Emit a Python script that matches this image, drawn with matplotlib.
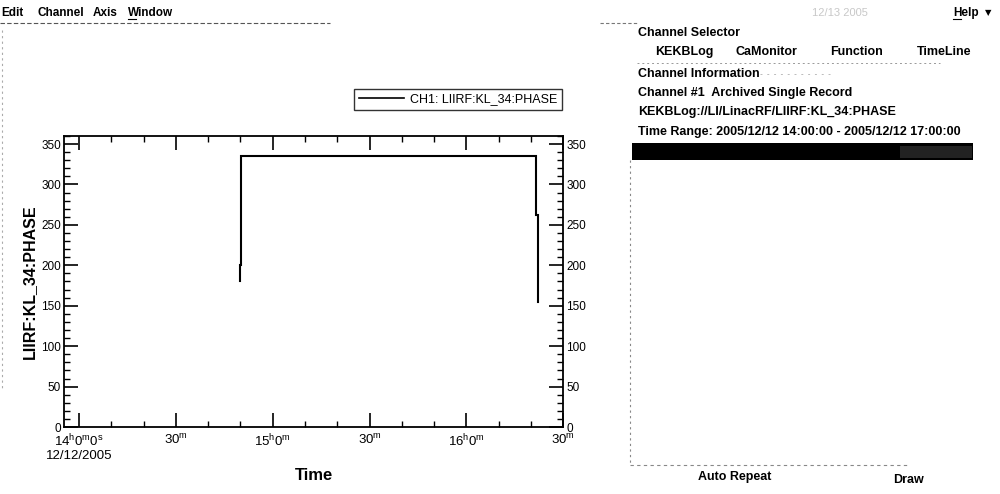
import matplotlib
matplotlib.use("Agg")
import matplotlib.pyplot as plt
import matplotlib.dates as mdates
from matplotlib.ticker import MultipleLocator, FixedLocator, FixedFormatter
from matplotlib.lines import Line2D
from matplotlib.patches import Rectangle
from datetime import datetime

plt.rcParams['font.family'] = ['Liberation Sans', 'DejaVu Sans']
plt.rcParams['mathtext.default'] = 'regular'

# ---------------- data ----------------
times = ["2005-12-12 14:49:50", "2005-12-12 14:49:50", "2005-12-12 14:50:10",
         "2005-12-12 14:50:10", "2005-12-12 16:21:40", "2005-12-12 16:21:40",
         "2005-12-12 16:22:05", "2005-12-12 16:22:05"]
values = [181, 200, 200, 335, 335, 262, 262, 155]
series_label = "CH1: LIIRF:KL_34:PHASE"

x_tick_times = ["2005-12-12 14:00:00", "2005-12-12 14:30:00", "2005-12-12 15:00:00",
                "2005-12-12 15:30:00", "2005-12-12 16:00:00", "2005-12-12 16:30:00"]
x_tick_labels = [r"14$^h$0$^m$0$^s$" + "\n12/12/2005", r"30$^m$", r"15$^h$0$^m$",
                 r"30$^m$", r"16$^h$0$^m$", r"30$^m$"]
y_ticks = [0, 50, 100, 150, 200, 250, 300, 350]
x_range = ["2005-12-12 13:55:21", "2005-12-12 16:30:00"]
y_range = [0, 360]

menu_items = ["Edit", "Channel", "Axis", "Window"]
selector_buttons = ["KEKBLog", "CaMonitor", "Function", "TimeLine"]
info_lines = ["Channel #1  Archived Single Record",
              "KEKBLog://LI/LinacRF/LIIRF:KL_34:PHASE",
              "Time Range: 2005/12/12 14:00:00 - 2005/12/12 17:00:00"]

fmt = "%Y-%m-%d %H:%M:%S"
t = [datetime.strptime(s, fmt) for s in times]
tt = [mdates.date2num(datetime.strptime(s, fmt)) for s in x_tick_times]
xr = [datetime.strptime(s, fmt) for s in x_range]

W, H = 1000, 494
fig = plt.figure(figsize=(W / 100, H / 100), dpi=100)
fig.patch.set_facecolor("white")

def fx(px):
    return px / W

def fy(py):
    return 1 - py / H

ax = fig.add_axes([fx(64), fy(427), fx(563.3) - fx(64), fy(136) - fy(427)])
ax.plot(t, values, color="black", lw=1.5, label=series_label, solid_joinstyle="miter")
ax.set_xlim(xr)
ax.set_ylim(y_range)

ax.xaxis.set_major_locator(FixedLocator(tt))
ax.xaxis.set_major_formatter(FixedFormatter(x_tick_labels))
ax.xaxis.set_minor_locator(mdates.MinuteLocator(byminute=range(0, 60, 10)))
ax.yaxis.set_major_locator(FixedLocator(y_ticks))
ax.yaxis.set_minor_locator(MultipleLocator(10))

for s in ax.spines.values():
    s.set_linewidth(1.3)
ax.tick_params(which="both", direction="in", top=True, right=True,
               labelright=True, labelsize=8.5, width=1.2, pad=2)
ax.tick_params(which="major", length=10)
ax.tick_params(which="minor", length=4, width=1.0)
ax.tick_params(axis="x", which="major", pad=4, labelsize=9.5)
for lab in ax.get_xticklabels():
    lab.set_linespacing(1.05)

ax.set_ylabel("LIIRF:KL_34:PHASE", fontsize=11.5, fontweight="bold", labelpad=3)
ax.set_xlabel("Time", fontsize=12, fontweight="bold", labelpad=4)
ax.xaxis.set_label_coords(0.5, (427 - 468) / 291)

leg = ax.legend(loc="upper right", bbox_to_anchor=((561.7 - 64) / 499.3, (427 - 89) / 291),
                frameon=True, fancybox=False, fontsize=9, handlelength=3.6,
                borderpad=0.35, handletextpad=0.5, borderaxespad=0)
leg.get_frame().set_edgecolor("black")
leg.get_frame().set_linewidth(1.0)
for ln in leg.get_lines():
    ln.set_linewidth(1.2)

# ---------------- surrounding GUI ----------------
menu_x = [1, 38, 93, 128]
for name, x in zip(menu_items, menu_x):
    fig.text(fx(x), fy(13), name, fontsize=8.5, fontweight="bold", va="center", ha="left")
fig.add_artist(Line2D([fx(128), fx(136)], [fy(19), fy(19)], color="black", lw=0.8))
fig.add_artist(Line2D([fx(0), fx(330)], [fy(23), fy(23)], color="#555555", lw=0.8,
                      ls=(0, (4, 2))))
fig.add_artist(Line2D([fx(2), fx(2)], [fy(30), fy(390)], color="#aaaaaa", lw=0.8,
                      ls=(0, (2, 3))))

fig.text(fx(812), fy(13), "12/13 2005", fontsize=8, color="#c8c8c8", va="center", ha="left")
fig.text(fx(953), fy(13), "Help", fontsize=8.5, fontweight="bold", va="center", ha="left")
fig.add_artist(Line2D([fx(953), fx(961)], [fy(19), fy(19)], color="black", lw=0.8))
fig.text(fx(988), fy(13), "\u25bc", fontsize=6, va="center", ha="center",
         family=["DejaVu Sans"])
fig.add_artist(Line2D([fx(600), fx(637)], [fy(23), fy(23)], color="#777777", lw=0.8,
                      ls=(0, (3, 2))))

pf = 9.0
fig.text(fx(638), fy(32.5), "Channel Selector", fontsize=pf, fontweight="bold",
         va="center", ha="left")
btn_x = [655, 735, 830, 917]
for name, x in zip(selector_buttons, btn_x):
    fig.text(fx(x), fy(52), name, fontsize=pf, fontweight="bold", va="center", ha="left")
fig.add_artist(Line2D([fx(637), fx(940)], [fy(63), fy(63)], color="#999999", lw=0.7,
                      ls=(0, (2, 3))))
fig.text(fx(638), fy(73.5), "Channel Information", fontsize=pf, fontweight="bold",
         va="center", ha="left")
fig.add_artist(Line2D([fx(760), fx(830)], [fy(74), fy(74)], color="#bbbbbb", lw=0.7,
                      ls=(0, (2, 5))))
for i, line in enumerate(info_lines):
    fig.text(fx(638), fy(93 + 19.3 * i), line, fontsize=pf, fontweight="bold",
             va="center", ha="left")

fig.add_artist(Rectangle((fx(632), fy(160)), fx(973) - fx(632), fy(143) - fy(160),
                         facecolor="black", edgecolor="none"))
fig.add_artist(Rectangle((fx(900), fy(158)), fx(972) - fx(900), fy(146) - fy(158),
                         facecolor="#222222", edgecolor="none"))
fig.add_artist(Line2D([fx(630), fx(630)], [fy(160), fy(465)], color="#888888", lw=0.8,
                      ls=(0, (2, 3))))
fig.add_artist(Line2D([fx(630), fx(910)], [fy(465), fy(465)], color="#888888", lw=0.8,
                      ls=(0, (3, 3))))
fig.text(fx(698), fy(477), "Auto Repeat", fontsize=pf, fontweight="bold",
         va="center", ha="left")
fig.text(fx(893), fy(480), "Draw", fontsize=pf, fontweight="bold", va="center", ha="left")

fig.savefig("out.png", dpi=100, facecolor="white")
